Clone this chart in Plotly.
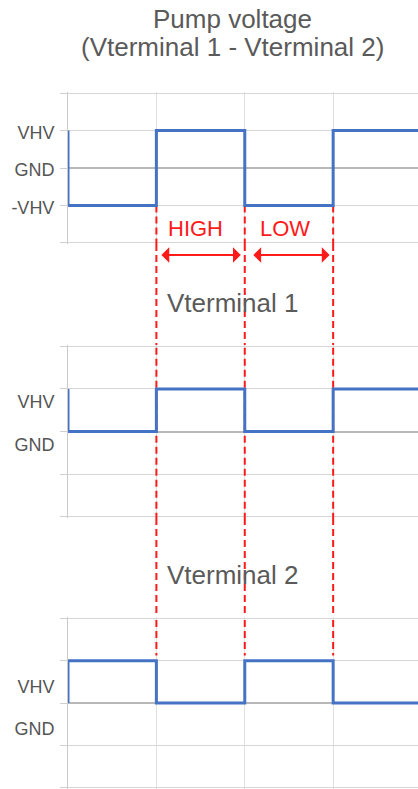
import plotly.graph_objects as go

# ---- data ----
edges = [1, 2, 3]                       # switching instants (red dashed markers)
pump_t = [0, 0, 1, 2, 3, 4]
pump_v = [1, -1, 1, -1, 1, 1]           # VHV=1, GND=0, -VHV=-1
vt1_t = [0, 0, 1, 2, 3, 4]
vt1_v = [1, 0, 1, 0, 1, 1]
vt2_t = [0, 0, 1, 2, 3, 4]
vt2_v = [0, 1, 0, 1, 0, 0]
grid_vals = [-2, -1, 0, 1, 2]
pump_ticks = ["", "-VHV", "GND", "VHV", ""]
vt_ticks = ["", "", "GND", "VHV", ""]

W, H = 418, 789
FONT = "Arial, Liberation Sans, sans-serif"
BLUE = "#4472c4"
RED = "#ff1a1a"

def py(px):
    return 1 - px / H

dom1 = [py(244), py(92)]
dom2 = [py(518), py(345)]
dom3 = [0, py(617)]

fig = go.Figure()

def red_trace(xa, ya, y_start, y_end):
    xs, ys = [], []
    for e in edges:
        xs += [e, e, None]
        ys += [y_start, y_end, None]
    fig.add_trace(go.Scatter(x=xs, y=ys, xaxis=xa, yaxis=ya, mode="lines",
                             line=dict(color=RED, width=2, dash="7px,4px"),
                             hoverinfo="skip", showlegend=False))

red_trace("x", "y", -1, -3)
fig.add_trace(go.Scatter(x=pump_t, y=pump_v, xaxis="x", yaxis="y", mode="lines",
                         line=dict(color=BLUE, width=3, shape="hv"), showlegend=False))
red_trace("x2", "y2", 3, -3)
fig.add_trace(go.Scatter(x=vt1_t, y=vt1_v, xaxis="x2", yaxis="y2", mode="lines",
                         line=dict(color=BLUE, width=3, shape="hv"), showlegend=False))
red_trace("x3", "y3", 3, 1.12)
fig.add_trace(go.Scatter(x=vt2_t, y=vt2_v, xaxis="x3", yaxis="y3", mode="lines",
                         line=dict(color=BLUE, width=3, shape="hv"), showlegend=False))

# dashed red connectors in the gaps between panels
for e in edges:
    for y0, y1 in [(dom1[0], dom2[1]), (dom2[0], dom3[1])]:
        fig.add_shape(type="line", xref="x", yref="paper", x0=e, x1=e, y0=y0, y1=y1,
                      line=dict(color=RED, width=2, dash="7px,4px"))

xcommon = dict(range=[0, 3.96], tickvals=[0, 1, 2, 3], showticklabels=False, ticks="",
               showgrid=True, gridcolor="#e0e0e0", gridwidth=1, zeroline=False,
               showline=False, fixedrange=True)

def ycommon(ticktext, shift):
    return dict(range=[-2.03, 2.03], tickvals=grid_vals, ticktext=ticktext, ticks="outside",
                ticklen=7, tickcolor="#d0d0d0", showgrid=True, gridcolor="#d6d6d6",
                gridwidth=1, zeroline=True, zerolinecolor="#b8b8b8", zerolinewidth=2,
                showline=True, linecolor="#cacaca", linewidth=1,
                tickfont=dict(family=FONT, size=18, color="#555555"),
                ticklabelshift=shift, ticklabelstandoff=2, fixedrange=True)

fig.update_layout(
    width=W, height=H,
    margin=dict(l=68, r=0, t=0, b=0),
    paper_bgcolor="white", plot_bgcolor="white",
    showlegend=False,
    xaxis=dict(domain=[0, 1], anchor="y", **xcommon),
    xaxis2=dict(domain=[0, 1], anchor="y2", **xcommon),
    xaxis3=dict(domain=[0, 1], anchor="y3", **xcommon),
    yaxis=dict(domain=dom1, anchor="x", **ycommon(pump_ticks, 2)),
    yaxis2=dict(domain=dom2, anchor="x2", **ycommon(vt_ticks, 13)),
    yaxis3=dict(domain=dom3, anchor="x3", **ycommon(vt_ticks, 26)),
)

TITLE_FONT = dict(family=FONT, size=26, color="#5a5a5a")
ann = [
    dict(text="Pump voltage", x=(232 - 68) / 350, y=py(19)),
    dict(text="(Vterminal 1 - Vterminal 2)", x=(232 - 68) / 350, y=py(47)),
]
for a in ann:
    fig.add_annotation(xref="paper", yref="paper", xanchor="center", yanchor="middle",
                       showarrow=False, font=TITLE_FONT, **a)

for txt, ypx in [("Vterminal 1", 303), ("Vterminal 2", 575)]:
    fig.add_annotation(text=txt, xref="x", yref="paper", x=1.1, y=py(ypx),
                       xanchor="left", yanchor="middle", showarrow=False, font=TITLE_FONT)

for txt, xc in [("HIGH", 1.44), ("LOW", 2.45)]:
    fig.add_annotation(text=txt, xref="x", yref="paper", x=xc, y=py(228),
                       xanchor="center", yanchor="middle", showarrow=False,
                       font=dict(family=FONT, size=22, color=RED))

for a0, a1 in [(1.04, 1.955), (2.08, 2.96)]:
    fig.add_annotation(text="", xref="x", yref="paper", x=a1, y=py(255),
                       axref="x", ax=a0, ayref="pixel", ay=0,
                       showarrow=True, arrowhead=1, arrowside="end+start",
                       arrowsize=1.3, arrowwidth=2, arrowcolor=RED, standoff=0, startstandoff=0)

fig.write_html("out.html", config={"displayModeBar": False},
               post_script="document.body.style.margin='0';document.body.style.overflow='hidden';")
